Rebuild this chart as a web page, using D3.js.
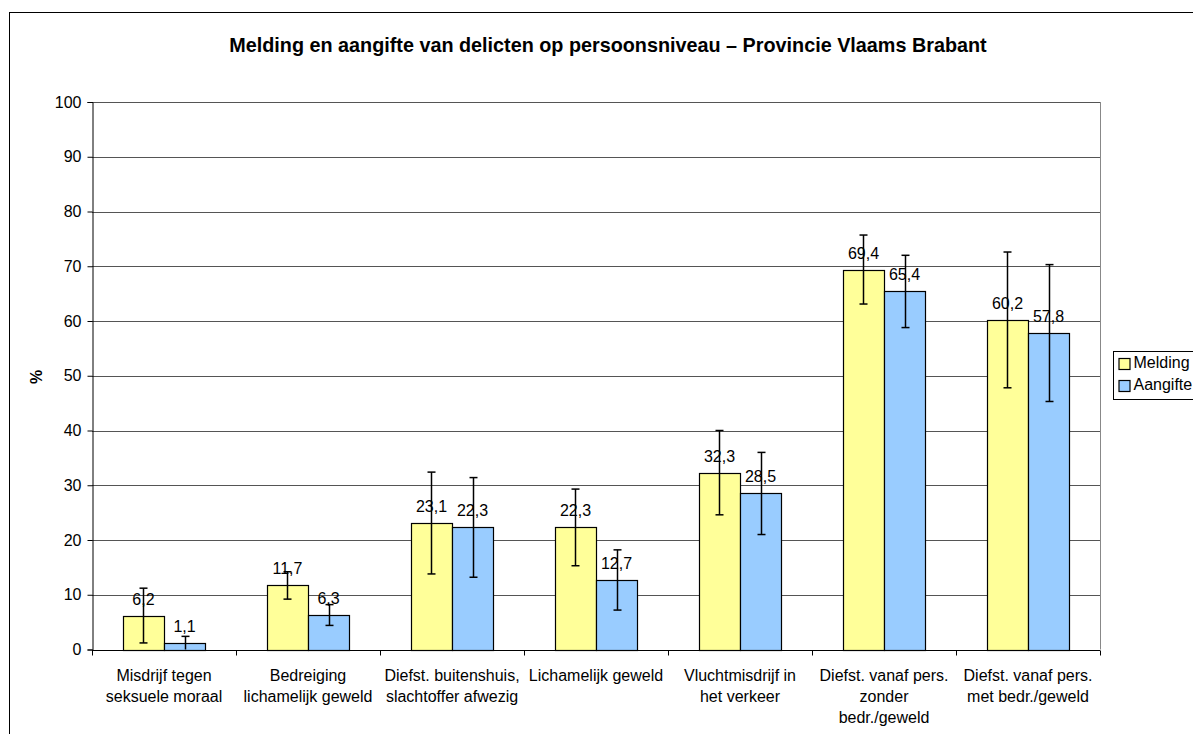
<!DOCTYPE html>
<html><head><meta charset="utf-8">
<script src="https://cdn.jsdelivr.net/npm/d3@7"></script>
<style>body{margin:0;background:#fff;} svg{display:block;font-family:Arial,"Liberation Sans",sans-serif;}</style>
</head><body>
<script>
const categories = [
  ["Misdrijf tegen","seksuele moraal"],
  ["Bedreiging","lichamelijk geweld"],
  ["Diefst. buitenshuis,","slachtoffer afwezig"],
  ["Lichamelijk geweld"],
  ["Vluchtmisdrijf in","het verkeer"],
  ["Diefst. vanaf pers.","zonder","bedr./geweld"],
  ["Diefst. vanaf pers.","met bedr./geweld"]
];
const seriesNames = ["Melding","Aangifte"];
const melding = [6.2, 11.7, 23.1, 22.3, 32.3, 69.4, 60.2];
const aangifte = [1.1, 6.3, 22.3, 12.7, 28.5, 65.4, 57.8];
const meldingErr = [5.0, 2.5, 9.3, 7.0, 7.7, 6.3, 12.4];
const aangifteErr = [1.3, 1.9, 9.1, 5.5, 7.5, 6.6, 12.5];
const yTicks = [0,10,20,30,40,50,60,70,80,90,100];
const colors = ["#FFFF99","#99CCFF"];
const title = "Melding en aangifte van delicten op persoonsniveau – Provincie Vlaams Brabant";

const W = 1193, H = 734, FS = 16;
const svg = d3.select("body").append("svg").attr("width", W).attr("height", H);
svg.append("rect").attr("x",9.5).attr("y",12.5).attr("width",1300).attr("height",800)
  .attr("fill","#fff").attr("stroke","#000").attr("stroke-width",1);

const L = 92, R = 1100, T = 102, B = 649.5;
const x = d3.scaleBand().domain(d3.range(categories.length)).range([L, R]).paddingInner(0).paddingOuter(0);
const xi = d3.scaleBand().domain([0,1]).range([0, x.bandwidth()]).paddingInner(0).paddingOuter(0.755);
const y = d3.scaleLinear().domain([0,100]).range([B, T]);

// gridlines
svg.append("g").selectAll("line").data(yTicks.filter(d=>d>0)).join("line")
  .attr("x1", L).attr("x2", R)
  .attr("y1", d=>Math.round(y(d))+0.5).attr("y2", d=>Math.round(y(d))+0.5)
  .attr("stroke","#555").attr("stroke-width",1);
svg.append("line").attr("x1",R+0.5).attr("x2",R+0.5).attr("y1",T).attr("y2",B).attr("stroke","#888");

// y axis
const yAxis = d3.axisLeft(y).tickValues(yTicks).tickSize(5).tickPadding(6);
const gy = svg.append("g").attr("transform",`translate(${L+0.5},0)`).call(yAxis);
gy.select(".domain").attr("stroke","#000");
gy.selectAll(".tick line").attr("stroke","#000");
gy.selectAll("text").attr("font-size",FS).attr("fill","#000").attr("font-family","Arial, 'Liberation Sans', sans-serif");

// x axis
const gx = svg.append("g").attr("transform",`translate(0,${Math.round(B)+0.5})`);
gx.append("line").attr("x1",L).attr("x2",R).attr("stroke","#000");
gx.selectAll("line.tk").data(d3.range(categories.length+1)).join("line").attr("class","tk")
  .attr("x1", i=>Math.round(L + i*x.bandwidth())+0.5).attr("x2", i=>Math.round(L + i*x.bandwidth())+0.5)
  .attr("y1",0).attr("y2",5).attr("stroke","#000");
categories.forEach((lines,i)=>{
  const t = gx.append("text").attr("text-anchor","middle").attr("font-size",FS).attr("fill","#000")
    .attr("x", x(i)+x.bandwidth()/2).attr("y", 30);
  lines.forEach((ln,j)=> t.append("tspan").attr("x", x(i)+x.bandwidth()/2).attr("dy", j===0?0:21).text(ln));
});

// bars
const data = [melding, aangifte];
const errs = [meldingErr, aangifteErr];
data.forEach((vals, s)=>{
  svg.append("g").selectAll("rect").data(vals).join("rect")
    .attr("x",(d,i)=>Math.round(x(i)+xi(s))+0.5)
    .attr("y",d=>Math.round(y(d))+0.5)
    .attr("width", Math.round(xi.bandwidth()))
    .attr("height",d=>Math.round(y(0))-Math.round(y(d)))
    .attr("fill",colors[s]).attr("stroke","#000").attr("stroke-width",1.2);
});
// labels
data.forEach((vals, s)=>{
  svg.append("g").selectAll("text").data(vals).join("text")
    .attr("x",(d,i)=>x(i)+xi(s)+xi.bandwidth()/2)
    .attr("y",d=>y(d)-11)
    .attr("text-anchor","middle").attr("font-size",FS).attr("fill","#000")
    .text(d=>d.toFixed(1).replace(".",","));
});
// error bars
data.forEach((vals, s)=>{
  const g = svg.append("g").attr("stroke","#000").attr("stroke-width",1.5);
  vals.forEach((v,i)=>{
    const cx = Math.round(x(i)+xi(s)+xi.bandwidth()/2)+0.5;
    const hi = y(Math.min(100, v+errs[s][i])), lo = y(Math.max(0, v-errs[s][i]));
    g.append("line").attr("x1",cx).attr("x2",cx).attr("y1",hi).attr("y2",lo);
    g.append("line").attr("x1",cx-4).attr("x2",cx+4).attr("y1",hi).attr("y2",hi);
    if (v-errs[s][i] > 0) g.append("line").attr("x1",cx-4).attr("x2",cx+4).attr("y1",lo).attr("y2",lo);
  });
});

// y label
svg.append("text").attr("transform","translate(42,377) rotate(-90)").attr("text-anchor","middle")
  .attr("font-size",FS).attr("font-weight","bold").attr("fill","#000").text("%");

// title
svg.append("text").attr("x",608).attr("y",52).attr("text-anchor","middle")
  .attr("font-size",19.8).attr("font-weight","bold").attr("fill","#000").text(title);

// legend
const lg = svg.append("g").attr("transform","translate(1113.5,351.5)");
lg.append("rect").attr("width",100).attr("height",48).attr("fill","#fff").attr("stroke","#000");
seriesNames.forEach((n,i)=>{
  lg.append("rect").attr("x",5.5).attr("y",7+i*22).attr("width",11).attr("height",11)
    .attr("fill",colors[i]).attr("stroke","#000").attr("stroke-width",1.2);
  lg.append("text").attr("x",20).attr("y",16+i*22).attr("font-size",FS).attr("fill","#000").text(n);
});
</script>
</body></html>
